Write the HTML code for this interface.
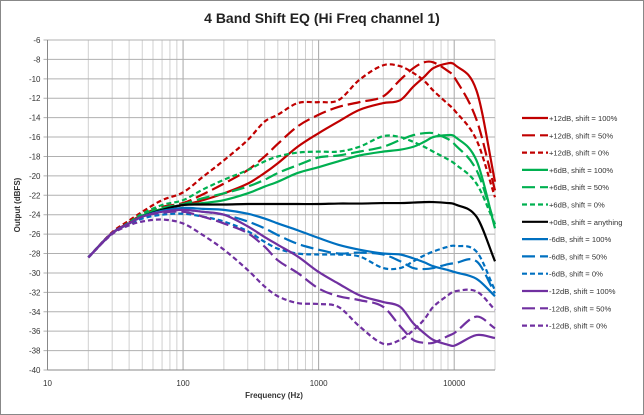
<!DOCTYPE html>
<html><head><meta charset="utf-8"><style>
body{margin:0;background:#fff}
svg{display:block;font-family:"Liberation Sans",sans-serif}
</style></head><body>
<svg id="chart" width="644" height="415" viewBox="0 0 644 415">
<rect x="0.5" y="0.5" width="643" height="414" fill="#fff" stroke="#888"/>
<text x="322" y="23" text-anchor="middle" font-size="14" font-weight="bold" fill="#222">4 Band Shift EQ (Hi Freq channel 1)</text>
<g id="grid"></g><g id="axes"></g><g id="series"></g><g id="legend"></g>
<text x="274" y="398" text-anchor="middle" font-size="8" font-weight="bold" fill="#333">Frequency (Hz)</text>
<text transform="translate(20,205) rotate(-90)" text-anchor="middle" font-size="8" font-weight="bold" fill="#333">Output (dBFS)</text>
</svg>
<script>
const freqs=[20,30,40,50,70,100,140,200,300,400,500,700,1000,1400,2000,3000,4000,5000,6000,7000,9000,10000,14600,20000];
const seriesNames=["+12dB, shift = 100%","+12dB, shift = 50%","+12dB, shift = 0%","+6dB, shift = 100%","+6dB, shift = 50%","+6dB, shift = 0%","+0dB, shift = anything","-6dB, shift = 100%","-6dB, shift = 50%","-6dB, shift = 0%","-12dB, shift = 100%","-12dB, shift = 50%","-12dB, shift = 0%"];
const p12_100=[-28.4,-25.9,-24.9,-24.1,-23.4,-23.0,-22.5,-21.8,-20.8,-19.7,-18.7,-17,-15.6,-14.4,-13.2,-12.5,-12.2,-10.8,-9.8,-8.9,-8.4,-8.5,-11.2,-20.6];
const p12_50=[-28.4,-25.9,-24.8,-24.0,-23.2,-22.8,-21.9,-20.8,-19.4,-18,-16.7,-14.9,-13.7,-12.9,-12.4,-11.8,-10.1,-8.9,-8.3,-8.3,-9.2,-9.8,-14.2,-21.5];
const p12_0=[-28.4,-25.8,-24.6,-23.7,-22.5,-21.7,-20.1,-18.4,-16.3,-14.4,-13.7,-12.5,-12.4,-12.2,-10.1,-8.6,-8.7,-9.4,-10.2,-11.2,-12.6,-13.2,-16.3,-22.2];
const p6_100=[-28.4,-25.9,-24.9,-24.1,-23.4,-23.0,-22.8,-22.5,-21.8,-21.1,-20.6,-19.7,-19.1,-18.5,-17.9,-17.5,-17.3,-17,-16.5,-16,-15.8,-15.9,-18.4,-25.4];
const p6_50=[-28.4,-25.9,-24.9,-24.1,-23.3,-22.9,-22.3,-21.8,-21.1,-20.4,-19.7,-18.9,-18.1,-17.9,-17.5,-17,-16.3,-15.8,-15.6,-15.6,-16.2,-16.7,-19.4,-25];
const p6_0=[-28.4,-25.9,-24.8,-23.9,-23.0,-22.5,-21.4,-20.4,-19.4,-18.5,-18,-17.6,-17.5,-17.5,-17,-15.9,-16,-16.5,-17,-17.5,-18.3,-18.7,-20.8,-25];
const p0_any=[-28.4,-25.9,-24.9,-24.2,-23.5,-23.0,-22.95,-22.95,-22.9,-22.9,-22.9,-22.9,-22.9,-22.85,-22.85,-22.8,-22.8,-22.75,-22.7,-22.7,-22.8,-22.9,-24.2,-28.8];
const m6_100=[-28.4,-25.9,-24.9,-24.2,-23.6,-23.3,-23.4,-23.5,-23.9,-24.4,-24.9,-25.6,-26.4,-27.1,-27.6,-28,-28.1,-28.5,-28.9,-29.3,-29.7,-29.9,-30.6,-32.4];
const m6_50=[-28.4,-25.9,-24.9,-24.2,-23.7,-23.5,-23.7,-24,-24.7,-25.4,-26.1,-27,-27.6,-28,-27.9,-28.1,-28.8,-29.5,-29.6,-29.5,-29.1,-29,-28.8,-32.1];
const m6_0=[-28.4,-25.9,-25.0,-24.4,-24.0,-23.9,-24.2,-24.7,-25.7,-26.8,-27.5,-28,-28.1,-28.1,-28.3,-29.5,-29.5,-28.8,-28.2,-27.8,-27.3,-27.2,-27.8,-31.8];
const m12_100=[-28.4,-25.9,-24.9,-24.2,-23.7,-23.5,-23.7,-24,-25.2,-26.3,-27.1,-28.3,-29.9,-31.1,-32.3,-33,-33.5,-35.2,-36.2,-36.9,-37.4,-37.5,-36.4,-36.7];
const m12_50=[-28.4,-25.9,-24.9,-24.2,-23.8,-23.7,-24.2,-24.9,-25.9,-27.3,-28.7,-30,-31.6,-32.4,-32.8,-33.5,-35.5,-36.9,-37.2,-37.2,-36.5,-36.2,-34.5,-35.7];
const m12_0=[-28.4,-26.0,-25.1,-24.7,-24.5,-24.9,-26.1,-27.6,-29.7,-31.4,-32.4,-33.1,-33.2,-33.5,-35.5,-37.3,-36.9,-35.9,-34.8,-33.5,-32.3,-31.9,-31.9,-33.8];
const yTicks=[-6,-8,-10,-12,-14,-16,-18,-20,-22,-24,-26,-28,-30,-32,-34,-36,-38,-40];
const xTicks=[10,100,1000,10000];

const X0=47.5,X1=495,Y0=40,Y1=370;
const xs=f=>X0+(Math.log10(f)-1)*(X1-X0)/Math.log10(2000);
const ys=v=>Y0+(-6-v)*(Y1-Y0)/34;
const NS="http://www.w3.org/2000/svg";
function mk(t,a,p){const e=document.createElementNS(NS,t);for(const k in a)e.setAttribute(k,a[k]);p.appendChild(e);return e;}
const grid=document.getElementById('grid'),axes=document.getElementById('axes');
for(let d=10;d<=10000;d*=10){for(let m=1;m<=9;m++){const f=d*m;if(f>20000)break;const x=xs(f);
 const l=mk('line',{x1:x,x2:x,y1:Y0,y2:Y1,stroke:m==1?'#a6a6a6':'#d0d0d0','stroke-width':1},grid);
 
 }}
{const l=mk('line',{x1:X1,x2:X1,y1:Y0,y2:Y1,stroke:'#d0d0d0'},grid);

}
yTicks.forEach(v=>{const y=ys(v);
 const l=mk('line',{x1:X0-4,x2:X1,y1:y,y2:y,stroke:'#b0b0b0','stroke-width':1},grid);
 
 
 const t=mk('text',{x:X0-7,y:y+3,'text-anchor':'end','font-size':8,fill:'#333'},axes);t.textContent=v;
 
 });
xTicks.forEach(f=>{const x=xs(f);
 const t=mk('text',{x:x,y:386,'text-anchor':'middle','font-size':8,fill:'#333'},axes);t.textContent=f;
 
 });
{const l=mk('line',{x1:X0,x2:X0,y1:Y0,y2:Y1,stroke:'#888'},axes);


const b=mk('line',{x1:X0,x2:X1,y1:Y1,y2:Y1,stroke:'#888'},axes);

}

const data=[p12_100,p12_50,p12_0,p6_100,p6_50,p6_0,p0_any,m6_100,m6_50,m6_0,m12_100,m12_50,m12_0];
const colors=['#c00000','#c00000','#c00000','#00b050','#00b050','#00b050','#000','#0070c0','#0070c0','#0070c0','#7030a0','#7030a0','#7030a0'];
const dashes=['','13,5','5,3','','13,5','5,3','','','13,5','5,3','','13,5','5,3'];
const ids=['p12-100','p12-50','p12-0','p6-100','p6-50','p6-0','p0-any','m6-100','m6-50','m6-0','m12-100','m12-50','m12-0'];
function path(vals){const P=freqs.map((f,i)=>[xs(f),ys(vals[i])]);const n=P.length;
 const m=P.map((p,i)=>{const a=P[Math.max(0,i-1)],b=P[Math.min(n-1,i+1)];return (b[1]-a[1])/(b[0]-a[0]);});
 let d='M'+P[0][0]+','+P[0][1];
 for(let i=0;i<n-1;i++){const p1=P[i],p2=P[i+1],dx=(p2[0]-p1[0])/3;
 d+=' C'+(p1[0]+dx)+','+(p1[1]+m[i]*dx)+' '+(p2[0]-dx)+','+(p2[1]-m[i+1]*dx)+' '+p2[0]+','+p2[1];}return d;}
const sg=document.getElementById('series'),lg=document.getElementById('legend');
data.forEach((vals,i)=>{const p=mk('path',{d:path(vals),fill:'none',stroke:colors[i],'stroke-width':2.2,'stroke-dasharray':dashes[i]},sg);
 
 
 const y=118+i*17.3;
 const g=mk('g',{},lg);
 
 
 mk('line',{x1:522,x2:548,y1:y,y2:y,stroke:colors[i],'stroke-width':2.2,'stroke-dasharray':dashes[i]},g);
 const t=mk('text',{x:549,y:y+3,'font-size':7.6,fill:'#333'},g);t.textContent=seriesNames[i];});
</script>
</body></html>
